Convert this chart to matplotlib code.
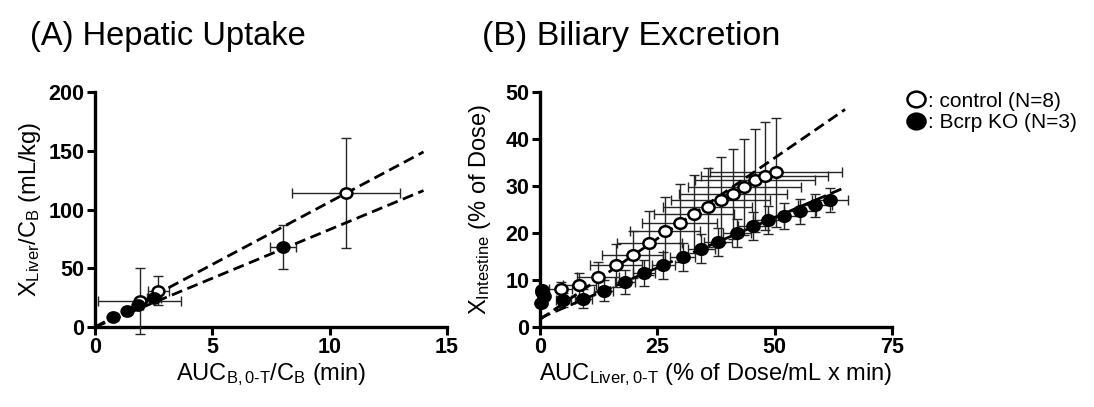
import numpy as np
import matplotlib
matplotlib.use('Agg')
import matplotlib.pyplot as plt
from matplotlib.path import Path
from matplotlib.transforms import Affine2D

plt.rcParams['font.family'] = ['Liberation Sans', 'DejaVu Sans']
plt.rcParams['mathtext.fontset'] = 'custom'
plt.rcParams['mathtext.rm'] = 'Liberation Sans'
plt.rcParams['mathtext.it'] = 'Liberation Sans'

# (A) hepatic uptake
a_ctrl_x = [1.9, 2.7, 10.7]
a_ctrl_y = [22, 31, 114]
a_ctrl_xerr = [1.75, 0.45, 2.3]
a_ctrl_yerr = [28, 12.5, 47]
a_ko_x = [0.75, 1.35, 1.85, 2.5, 8.0]
a_ko_y = [8.5, 13.5, 18.5, 25, 68]
a_ko_xerr = [0.1, 0.15, 0.2, 0.3, 0.55]
a_ko_yerr = [1.5, 2, 3, 3, 18.5]
a_ctrl_fit = [0.0, 10.65]  # intercept, slope
a_ko_fit = [0.0, 8.3]

# (B) biliary excretion
b_ctrl_x = [0.5, 4.4, 8.4, 12.4, 16.2, 19.8, 23.3, 26.6, 29.8, 32.8, 35.7,
            38.5, 41.1, 43.5, 45.8, 47.9, 50.3]
b_ctrl_y = [7.5, 8.0, 8.9, 10.6, 13.1, 15.4, 17.9, 20.4, 22.1, 24.1, 25.5,
            27.0, 28.4, 29.8, 31.2, 32.1, 32.9]
b_ctrl_xerr = [0.5, 2.5, 3.5, 4.5, 5.5, 6.5, 7.0, 7.5, 8.0, 8.5, 9.5,
               10.5, 11.5, 12.0, 12.8, 13.5, 14.0]
b_ctrl_yerr = [1.0, 1.5, 2.6, 3.2, 4.6, 5.0, 6.9, 7.3, 8.3, 8.3, 8.4,
               9.2, 9.6, 10.3, 11.0, 11.5, 11.6]
b_ko_x = [0.2, 0.4, 0.8, 5.0, 9.2, 13.6, 18.1, 22.2, 26.3, 30.4, 34.4, 38.0,
          41.9, 45.3, 48.6, 52.0, 55.4, 58.6, 61.8]
b_ko_y = [5.0, 7.8, 6.6, 5.7, 6.0, 7.7, 9.6, 11.5, 13.1, 14.9, 16.7, 18.1,
          20.0, 21.5, 22.7, 23.6, 24.6, 25.9, 27.0]
b_ko_xerr = [0.2, 0.3, 0.4, 1.5, 1.8, 2.0, 2.2, 2.4, 2.5, 2.6, 2.8, 3.0,
             3.0, 3.2, 3.3, 3.4, 3.5, 3.6, 3.8]
b_ko_yerr = [0.8, 0.8, 0.8, 1.5, 2.0, 2.2, 2.5, 2.8, 2.8, 2.9, 3.0, 3.0,
             3.0, 3.0, 3.0, 2.8, 2.6, 2.5, 2.5]
b_ctrl_fit = [1.6, 0.688]
b_ko_fit = [1.9, 0.428]

# slightly wide circle, like the stretched original
ellipse = Path.unit_circle().transformed(Affine2D().scale(1.15, 1.0))


def style_axes(ax, xlim, ylim, xticks, yticks):
    ax.set_xlim(xlim)
    ax.set_ylim(ylim)
    ax.set_xticks(xticks, [str(t) for t in xticks], fontsize=15.5,
                  fontweight='bold')
    ax.set_yticks(yticks, [str(t) for t in yticks], fontsize=15.5,
                  fontweight='bold')
    for s in ['top', 'right']:
        ax.spines[s].set_visible(False)
    for s in ['left', 'bottom']:
        ax.spines[s].set_linewidth(2.4)
    ax.tick_params(width=2.2, length=6, pad=1.5)


def draw_series(ax, x, y, xerr, yerr, filled, ms):
    ax.errorbar(x, y, xerr=xerr, yerr=yerr, fmt='none',
                ecolor='#262626', elinewidth=1.0, capsize=3.8, capthick=1.0,
                clip_on=False, zorder=3)
    ax.plot(x, y, ls='none', marker=ellipse, ms=ms,
            mfc='black' if filled else 'white', mec='black', mew=1.8,
            clip_on=False, zorder=5)


def draw_fit(ax, fit, x0, x1):
    xs = np.array([x0, x1])
    ax.plot(xs, fit[0] + fit[1] * xs, color='black', lw=2.0,
            dashes=(4, 2), zorder=4)


fig = plt.figure(figsize=(10.94, 4.07), dpi=100)
ax1 = fig.add_axes([0.0868, 0.1966, 0.3218, 0.577])
ax2 = fig.add_axes([0.4936, 0.1966, 0.3218, 0.577])

# panel A
draw_series(ax1, a_ctrl_x, a_ctrl_y, a_ctrl_xerr, a_ctrl_yerr, False, 8.5)
draw_series(ax1, a_ko_x, a_ko_y, a_ko_xerr, a_ko_yerr, True, 8.5)
draw_fit(ax1, a_ctrl_fit, 0, 14)
draw_fit(ax1, a_ko_fit, 0, 14)
style_axes(ax1, (0, 15), (0, 200), [0, 5, 10, 15], [0, 50, 100, 150, 200])
ax1.set_xlabel(r'AUC$_{\mathrm{B,0\text{-}T}}$/C$_{\mathrm{B}}$ (min)',
               fontsize=17, labelpad=2)
ax1.set_ylabel(r'X$_{\mathrm{Liver}}$/C$_{\mathrm{B}}$ (mL/kg)',
               fontsize=17, labelpad=4)

# panel B
draw_series(ax2, b_ctrl_x, b_ctrl_y, b_ctrl_xerr, b_ctrl_yerr, False, 8.8)
draw_series(ax2, b_ko_x, b_ko_y, b_ko_xerr, b_ko_yerr, True, 8.8)
draw_fit(ax2, b_ctrl_fit, 0, 65)
draw_fit(ax2, b_ko_fit, 0, 65)
style_axes(ax2, (0, 75), (0, 50), [0, 25, 50, 75], [0, 10, 20, 30, 40, 50])
ax2.set_xlabel(r'AUC$_{\mathrm{Liver,0\text{-}T}}$ (% of Dose/mL x min)',
               fontsize=17, labelpad=2)
ax2.set_ylabel(r'X$_{\mathrm{Intestine}}$ (% of Dose)', fontsize=17,
               labelpad=9)

fig.text(0.027, 0.89, '(A) Hepatic Uptake', fontsize=23.5)
fig.text(0.441, 0.89, '(B) Biliary Excretion', fontsize=24.5)

h1 = plt.Line2D([], [], ls='none', marker=ellipse, ms=13, mfc='white',
                mec='black', mew=1.8)
h2 = plt.Line2D([], [], ls='none', marker=ellipse, ms=13, mfc='black',
                mec='black', mew=1.8)
fig.legend([h1, h2], [': control (N=8)', ': Bcrp KO (N=3)'],
           loc='upper left', bbox_to_anchor=(0.818, 0.795), frameon=False,
           fontsize=15, handletextpad=0.0, handlelength=1.2,
           labelspacing=0.1, borderaxespad=0)

fig.savefig('out.png', dpi=100)
